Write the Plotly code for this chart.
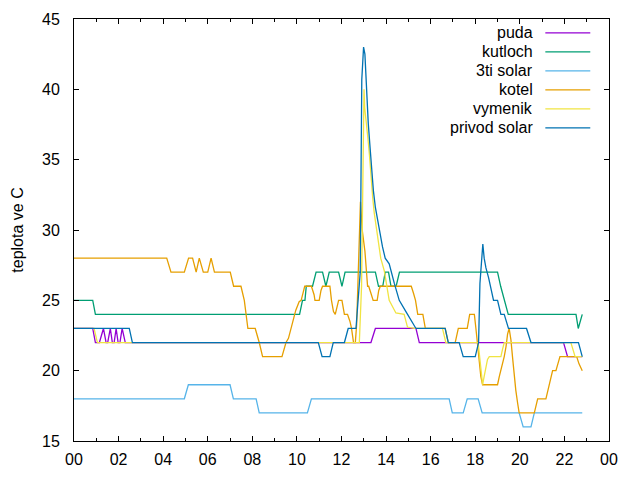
import plotly.graph_objects as go

# ---- data (time in hours, temperature in deg C) ----
names = ["puda", "kutloch", "3ti solar", "kotel", "vymenik", "privod solar"]
colors = ["#9400d3", "#009e73", "#56b4e9", "#e69f00", "#f0e442", "#0072b2"]

puda_t = [0, 0.84, 0.96, 1.14, 1.32, 1.44, 1.51, 1.63, 1.72, 1.8, 1.89, 1.98, 2.06, 2.16, 2.3,
          13.32, 13.52, 15.34, 15.49, 21.96, 22.14, 22.8]
puda_v = [23, 23, 22, 22, 23, 22, 22, 23, 22, 22, 23, 22, 22, 23, 22,
          22, 23, 23, 22, 22, 21, 21]

kutloch_t = [0, 0.84, 0.96, 10.12, 10.25, 10.36, 10.42, 10.7, 10.86, 11.15, 11.3, 11.45, 11.87,
             12.02, 12.16, 13.52, 13.66, 13.85, 13.96, 14.11, 14.22, 14.45, 14.6, 19.0, 19.14,
             19.3, 19.48, 22.52, 22.62, 22.8]
kutloch_v = [25, 25, 24, 24, 25, 25, 26, 26, 27, 27, 26, 27, 27,
             26, 27, 27, 26, 26, 27, 27, 26, 26, 27, 27, 26,
             25, 24, 24, 23, 24]

solar3_t = [0, 4.95, 5.13, 7.0, 7.15, 8.17, 8.31, 10.47, 10.65, 16.83, 16.97, 17.46, 17.64,
            18.13, 18.31, 19.97, 20.15, 20.5, 20.65, 22.8]
solar3_v = [18, 18, 19, 19, 18, 18, 17, 17, 18, 18, 17, 17, 18,
            18, 17, 17, 16, 16, 17, 17]

kotel_t = [0, 4.16, 4.35, 4.95, 5.14, 5.32, 5.48, 5.62, 5.8, 6.0, 6.15, 6.3, 7.01, 7.16, 7.49,
           7.64, 7.8, 8.13, 8.31, 8.46, 9.33, 9.51, 9.62, 9.8, 9.95, 10.1, 10.19, 10.27, 10.35,
           10.65, 10.77, 10.81, 11.0, 11.08, 11.15, 11.48, 11.55, 11.64, 11.72, 11.87, 12.02,
           12.13, 12.27, 12.38, 12.45, 12.54, 12.62, 12.68, 12.77, 12.85, 12.93, 13.0, 13.05,
           13.17, 13.22, 13.32, 13.42, 13.6, 13.67, 13.74, 15.13, 15.23, 15.32, 15.42, 15.65,
           15.76, 16.65, 16.79, 17.1, 17.24, 17.64, 17.75, 17.96, 18.03, 18.1, 18.18, 18.25,
           18.33, 19.0, 19.08, 19.23, 19.3, 19.38, 19.45, 19.52, 19.6, 19.67, 19.75, 19.82,
           19.9, 19.97, 20.65, 20.8, 21.17, 21.24, 21.32, 21.47, 21.62, 21.69, 21.8, 22.55,
           22.65, 22.8]
kotel_v = [28, 28, 27, 27, 28, 28, 27, 28, 27, 27, 28, 27, 27, 26, 26,
           25, 23, 23, 22, 21, 21, 22, 22.3, 23.4, 24.3, 24.9, 25, 25.5, 26,
           26, 25.4, 25, 25, 25.7, 26, 26, 25, 24.2, 24, 25, 25,
           24, 24, 23.5, 23, 22, 22, 23.3, 28, 32, 30, 29, 28.5,
           26, 26, 25.5, 25, 25, 25.7, 26, 26, 25.5, 25, 24, 24,
           23, 23, 22, 22, 23, 23, 24, 24, 23, 22, 20.5, 19.6,
           19, 19, 19.6, 20.5, 21, 21.7, 22.6, 23, 22.2, 21, 19.6, 18.6,
           17.7, 17, 17, 18, 18, 18.5, 19, 20, 20, 20.4, 21, 21,
           20.5, 20]

vymenik_t = [0, 0.9, 1.05, 12.8, 12.9, 12.96, 13.01, 13.04, 13.11, 13.18, 13.25, 13.32, 13.4,
             13.47, 13.57, 13.69, 13.76, 13.92, 14.14, 14.44, 14.81, 14.96, 15.26, 16.53, 16.68,
             18.13, 18.22, 18.33, 18.4, 18.47, 18.55, 18.63, 19.15, 19.22, 19.3, 22.29, 22.48,
             22.8]
vymenik_v = [23, 23, 22, 22, 26, 36, 40, 38.7, 37.8, 36.6, 35.4, 33.7, 32.3,
             31.2, 30, 28.8, 28, 27.1, 25, 24.1, 24, 23.1, 23, 23, 22,
             22, 20.5, 19, 19.6, 20.3, 20.8, 21, 21, 21.5, 22, 22, 21,
             21]

privod_t = [0, 2.48, 2.62, 10.96, 11.13, 11.48, 11.63, 12.13, 12.3, 12.65, 12.72, 12.84, 12.91,
            12.99, 13.05, 13.1, 13.14, 13.2, 13.28, 13.35, 13.43, 13.52, 13.62, 13.73, 13.84,
            13.96, 14.14, 14.37, 14.59, 14.89, 15.17, 15.34, 16.65, 16.79, 17.28, 17.46, 18.0,
            18.15, 18.21, 18.28, 18.34, 18.4, 18.48, 18.6, 18.7, 18.82, 19.0, 19.08, 19.15,
            19.3, 19.4, 19.49, 20.3, 20.5, 22.63, 22.8]
privod_v = [23, 23, 22, 22, 21, 21, 22, 22, 23, 23, 24.5, 27, 40.7,
            43, 42.5, 40.6, 39.1, 37.6, 35.9, 34.2, 32.8, 31.6, 30.7, 29.7, 28.8,
            28, 27.6, 26.2, 25, 24.2, 23.5, 23, 23, 22, 22, 21, 21,
            22, 26.2, 28.1, 29, 28, 27.3, 26.6, 25.9, 25, 25, 24.4, 24,
            24, 23.5, 23, 23, 22, 22, 21]

x_tickvals = [0, 2, 4, 6, 8, 10, 12, 14, 16, 18, 20, 22, 24]
x_ticktext = ["00", "02", "04", "06", "08", "10", "12", "14", "16", "18", "20", "22", "00"]
y_tickvals = [15, 20, 25, 30, 35, 40, 45]

series = [(puda_t, puda_v), (kutloch_t, kutloch_v), (solar3_t, solar3_v),
          (kotel_t, kotel_v), (vymenik_t, vymenik_v), (privod_t, privod_v)]

FONT = "Liberation Sans, Arial, sans-serif"

fig = go.Figure()
for name, color, (t, v) in zip(names, colors, series):
    fig.add_trace(go.Scatter(x=t, y=v, mode="lines", name=name,
                             line=dict(color=color, width=1.3), showlegend=False))

# gnuplot-style key: right-justified text followed by a line sample
key_top = 0.967
key_step = 0.045
for i, (name, color) in enumerate(zip(names, colors)):
    yk = key_top - i * key_step
    fig.add_annotation(x=0.862, y=yk, xref="paper", yref="paper", text=name,
                       showarrow=False, xanchor="right", yanchor="middle",
                       font=dict(family=FONT, size=16, color="black"))
    fig.add_shape(type="line", xref="paper", yref="paper", x0=0.881, x1=0.965,
                  y0=yk, y1=yk, line=dict(color=color, width=1.3))

fig.update_layout(
    width=640, height=480,
    margin=dict(l=74, r=31, t=19, b=39),
    paper_bgcolor="white", plot_bgcolor="white",
    font=dict(family=FONT, size=16, color="black"),
    xaxis=dict(range=[0, 24], tickmode="array", tickvals=x_tickvals, ticktext=x_ticktext,
               ticks="inside", ticklen=5, tickcolor="black", showgrid=False, zeroline=False,
               showline=True, linecolor="black", linewidth=1, mirror="allticks",
               ticklabelstandoff=4,
               minor=dict(tickmode="linear", tick0=1, dtick=2, ticks="inside", ticklen=3,
                          tickcolor="black", showgrid=False)),
    yaxis=dict(range=[15, 45], tickmode="array", tickvals=y_tickvals,
               ticks="inside", ticklen=5, tickcolor="black", showgrid=False, zeroline=False,
               showline=True, linecolor="black", linewidth=1, mirror="allticks",
               ticklabelstandoff=10,
               title=dict(text="teplota ve C", standoff=14, font=dict(size=16))),
)

fig.write_html("out.html")
